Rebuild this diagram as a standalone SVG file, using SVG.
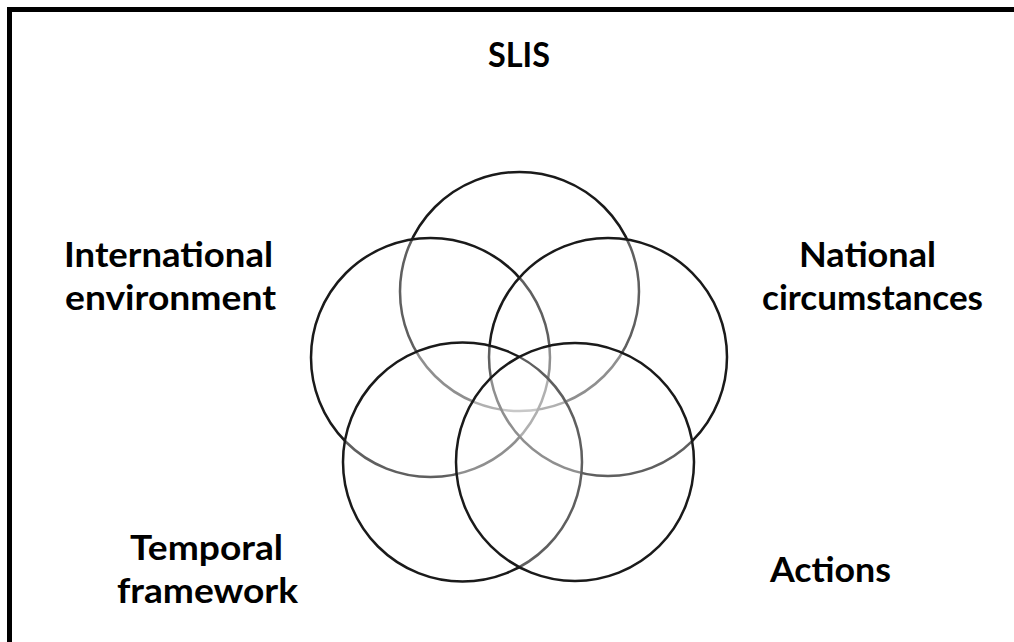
<svg xmlns="http://www.w3.org/2000/svg" width="1014" height="642" viewBox="0 0 1014 642">
  <style>
    .frame { fill: none; stroke: #000; stroke-width: 5; }
    .ring { fill: #fff; fill-opacity: 0.3; stroke: #1a1a1a; stroke-width: 2.5; }
    .label { font-family: "Lato", "Open Sans", "Liberation Sans", sans-serif; font-weight: bold; font-size: 34px; fill: #000; }
  </style>
  <rect width="1014" height="642" fill="#fff"/>
  <!-- frame: only the top and left edges fall inside the canvas -->
  <rect class="frame" x="9.5" y="9.5" width="1100" height="700"/>

  <!-- five equal circles set on a regular pentagon -->
  <g id="venn">
    <g id="circle-slis"><circle class="ring" cx="519.5" cy="291.5" r="119.5"/></g>
    <g id="circle-international"><circle class="ring" cx="430.5" cy="357.5" r="119.5"/></g>
    <g id="circle-national"><circle class="ring" cx="608" cy="357" r="119"/></g>
    <g id="circle-temporal"><circle class="ring" cx="462.5" cy="462" r="119.5"/></g>
    <g id="circle-actions"><circle class="ring" cx="575" cy="462" r="119"/></g>
  </g>

  <g id="label-slis">
    <text class="label" x="488" y="67" textLength="62" lengthAdjust="spacingAndGlyphs">SLIS</text>
  </g>
  <g id="label-international">
    <text class="label" x="64" y="267" textLength="209" lengthAdjust="spacingAndGlyphs">International</text>
    <text class="label" x="65" y="310" textLength="211" lengthAdjust="spacingAndGlyphs">environment</text>
  </g>
  <g id="label-national">
    <text class="label" x="799" y="267" textLength="137" lengthAdjust="spacingAndGlyphs">National</text>
    <text class="label" x="762" y="310" textLength="221" lengthAdjust="spacingAndGlyphs">circumstances</text>
  </g>
  <g id="label-temporal">
    <text class="label" x="130" y="560" textLength="153" lengthAdjust="spacingAndGlyphs">Temporal</text>
    <text class="label" x="117" y="603" textLength="181" lengthAdjust="spacingAndGlyphs">framework</text>
  </g>
  <g id="label-actions">
    <text class="label" x="770" y="582" textLength="121" lengthAdjust="spacingAndGlyphs">Actions</text>
  </g>
</svg>
